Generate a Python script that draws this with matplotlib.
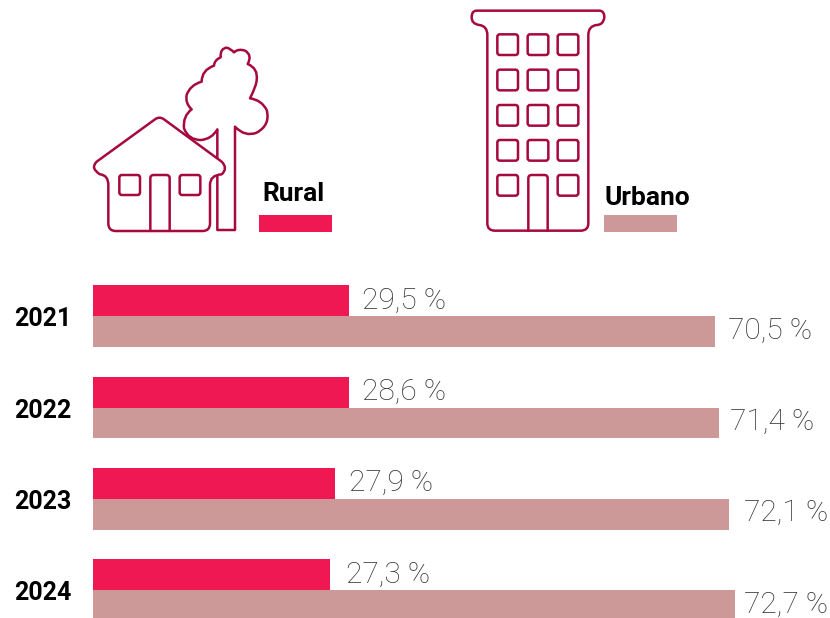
#!/usr/bin/env python3
import matplotlib
matplotlib.use('Agg')
import matplotlib.pyplot as plt
from matplotlib.path import Path
from matplotlib.patches import PathPatch, FancyBboxPatch, Rectangle

years = ['2021', '2022', '2023', '2024']
rural_labels = ['29,5 %', '28,6 %', '27,9 %', '27,3 %']
urban_labels = ['70,5 %', '71,4 %', '72,1 %', '72,7 %']
# bar lengths as drawn in the picture (not quite the printed numbers)
rural_bars = [29.0, 29.0, 27.4, 26.85]
urban_bars = [70.45, 70.9, 72.05, 72.7]
rural_pad = [13, 13, 14, 16]
urban_pad = [13, 11, 15, 9]

RED = '#f01852'
PINK = '#cd9898'
LINE = '#a6093d'
W, H = 830, 618
PX = 8.83       # pixels per percent
PITCH = 91.3    # pixels per year
X0 = 93
Y0 = 316.2

plt.rcParams['font.family'] = ['Roboto', 'DejaVu Sans']

fig = plt.figure(figsize=[8.3, 6.18], dpi=100)

# icons and legend live in pixel coords of the whole figure
bg = fig.add_axes([0, 0, 1, 1])
bg.set_xlim(0, W)
bg.set_ylim(H, 0)
bg.axis('off')

ax = fig.add_axes([0, 0, 1, 1])
ax.set_xlim(-X0 / PX, (W - X0) / PX)
ax.set_ylim((H - Y0) / PITCH, -Y0 / PITCH)
ax.axis('off')
ax.patch.set_alpha(0)

ypos = list(range(len(years)))
bh = 30.8 / PITCH
ax.barh([y - bh / 2 for y in ypos], rural_bars, height=bh, color=RED, linewidth=0)
ax.barh([y + bh / 2 for y in ypos], urban_bars, height=bh, color=PINK, linewidth=0)

for y, yr in zip(ypos, years):
    ax.annotate(yr, (0, y), xytext=(14, -3), xycoords=('figure pixels', 'data'),
                textcoords='offset pixels', va='center', ha='left', fontsize=18,
                fontweight='bold', color='black')
    ax.annotate(rural_labels[y], (rural_bars[y], y - bh / 2), xytext=(rural_pad[y], 0),
                textcoords='offset pixels', va='center', ha='left', fontsize=21.5,
                fontweight='light', color='#333333')
    ax.annotate(urban_labels[y], (urban_bars[y], y + bh / 2), xytext=(urban_pad[y], 1),
                textcoords='offset pixels', va='center', ha='left', fontsize=21.5,
                fontweight='light', color='#333333')

# legend
bg.add_patch(Rectangle((259, 215), 73, 17, color=RED, linewidth=0))
bg.add_patch(Rectangle((604, 215), 73, 17, color=PINK, linewidth=0))
bg.text(262, 201, 'Rural', fontsize=19, fontweight='bold', color='black', va='baseline')
bg.text(604, 205, 'Urbano', fontsize=19, fontweight='bold', color='black', va='baseline')

LW = 1.8


def outline(start, segs, ox, oy, closed=False, fill='none', z=2):
    # segs: (x, y) straight, or (cx, cy, x, y) curved; coords from the 3x crops
    verts = [(ox + start[0] / 3, oy + start[1] / 3)]
    codes = [Path.MOVETO]
    for s in segs:
        if len(s) == 2:
            verts.append((ox + s[0] / 3, oy + s[1] / 3))
            codes.append(Path.LINETO)
        else:
            verts.append((ox + s[0] / 3, oy + s[1] / 3))
            verts.append((ox + s[2] / 3, oy + s[3] / 3))
            codes += [Path.CURVE3, Path.CURVE3]
    if closed:
        verts.append(verts[0])
        codes.append(Path.CLOSEPOLY)
    bg.add_patch(PathPatch(Path(verts, codes), facecolor=fill, edgecolor=LINE, linewidth=LW,
                           joinstyle='round', capstyle='round', zorder=z))


def window(x, y, w, h, ox, oy):
    bg.add_patch(FancyBboxPatch((ox + x / 3 + 2, oy + y / 3 + 2), w / 3 - 4, h / 3 - 4,
                                boxstyle='round,pad=2,rounding_size=2.5', facecolor='white',
                                edgecolor=LINE, linewidth=LW, zorder=4))


# tree, the house goes over it
outline((412, 298), [(395, 328, 362, 330), (325, 330, 312, 295), (308, 258, 335, 238),
                     (315, 220, 320, 195), (330, 165, 365, 155), (365, 120, 402, 107),
                     (403, 90, 422, 82), (420, 55, 440, 53), (450, 55, 462, 67),
                     (475, 55, 495, 62), (518, 75, 503, 102), (535, 115, 530, 150),
                     (530, 165, 510, 205), (545, 210, 560, 240), (572, 285, 530, 308),
                     (495, 322, 465, 290), (465, 600), (412, 600)], 80, 30, closed=True, fill='white')

# house
outline((225, 268), [(238, 258, 252, 268), (425, 395), (445, 415, 425, 433), (390, 435, 390, 465),
                     (390, 580), (390, 603, 368, 603), (107, 603), (85, 603, 85, 580),
                     (85, 465), (85, 435, 60, 433), (30, 415, 50, 395)], 80, 30, closed=True,
        fill='white', z=3)
outline((211, 603), [(211, 445), (211, 435, 221, 435), (259, 435), (269, 435, 269, 445), (269, 603)],
        80, 30, z=4)
window(118, 435, 62, 60, 80, 30)
window(299, 435, 62, 60, 80, 30)

# building
outline((50, 32), [(418, 32), (433, 32, 433, 52), (430, 75, 410, 75), (385, 78, 385, 105),
                   (385, 670), (385, 692, 362, 692), (105, 692), (82, 692, 82, 670),
                   (82, 105), (82, 78, 58, 75), (35, 72, 35, 52), (35, 32, 50, 32)],
        460, 0, closed=True, fill='white', z=3)
for wy in [103, 209, 315, 420]:
    for wx in [112, 203, 293]:
        window(wx, wy, 62, 62, 460, 0)
window(112, 525, 62, 62, 460, 0)
window(293, 525, 62, 62, 460, 0)
outline((205, 692), [(205, 535), (205, 525, 215, 525), (253, 525), (263, 525, 263, 535), (263, 692)],
        460, 0, z=4)

fig.savefig('out.png', dpi=100)
